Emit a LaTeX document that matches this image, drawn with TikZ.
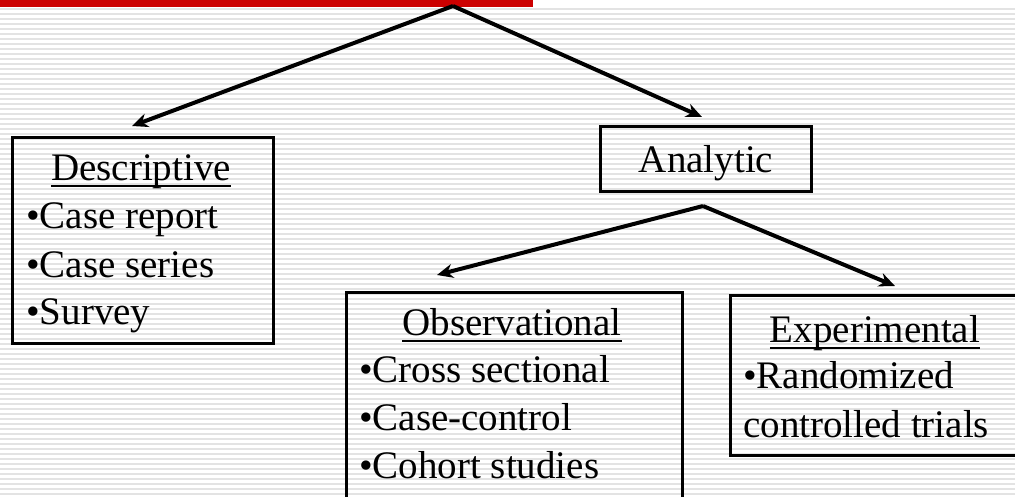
\documentclass[tikz,border=0pt]{standalone}
\usepackage{fontspec}
\setmainfont{Liberation Serif}
\usepackage{xcolor}
\usepackage{tikz}
\usetikzlibrary{arrows.meta, positioning}

\definecolor{barred}{HTML}{CC0000}
\definecolor{stripe}{HTML}{E3E3E3}

\begin{document}
\begin{tikzpicture}[
        x=1pt, y=-1pt,
        >={Stealth[length=16pt, width=14pt]},
        box/.style={draw, line width=3pt, inner sep=0pt},
        txt/.style={anchor=base west, inner sep=0pt, font=\fontsize{39}{46}\selectfont},
        head/.style={txt, anchor=base},
        link/.style={->, line width=4pt},
      ]

      \useasboundingbox (0,0) rectangle (1015,496);
      \clip (0,0) rectangle (1015,496);

      % striped slide background
      \fill[white] (0,0) rectangle (1015,496);
      \foreach \y in {9,14,...,496}
        \draw[stripe, line width=2pt] (0,\y) -- (1015,\y);

      \fill[barred] (0,0) rectangle (533,7);

      \node[box, minimum width=261pt, minimum height=206pt] (desc) at (142.5,240) {};
      \node[box, minimum width=211pt, minimum height=65pt]  (anal) at (705.5,158.5) {};
      \node[box, minimum width=336pt, minimum height=230pt] (obs)  at (514,407) {};
      \node[box, minimum width=287pt, minimum height=160pt] (exp)  at (873.5,375) {};

      \node[head] (descH) at (141,180) {Descriptive};
      \node[txt] (d1) at (26,228) {•Case report};
      \node[txt] (d2) at (26,277) {•Case series};
      \node[txt] (d3) at (26,324) {•Survey};

      \node[head] (analH) at (706,172) {Analytic};

      \node[head] (obsH) at (512,335) {Observational};
      \node[txt] (o1) at (359,382) {•Cross sectional};
      \node[txt] (o2) at (359,430) {•Case-control};
      \node[txt] (o3) at (359,478) {•Cohort studies};

      \node[head] (expH) at (875,342) {Experimental};
      \node[txt] (e1) at (743,388) {•Randomized};
      \node[txt] (e2) at (743,437) {controlled trials};

      % underlines of the headings
      \foreach \h in {descH, obsH, expH}
        \draw[line width=2pt] ([yshift=-6pt]\h.base west) -- ([yshift=-6pt]\h.base east);

      \coordinate (top)   at (453,6);
      \coordinate (split) at (703,206);
      \coordinate (descIn) at (132,126);
      \coordinate (analIn) at (702,117);
      \coordinate (obsIn)  at (437,275);
      \coordinate (expIn)  at (895,286);

      \draw[link] (top) -- (descIn);
      \draw[link] (top) -- (analIn);
      \draw[link] (split) -- (obsIn);
      \draw[link] (split) -- (expIn);

    \end{tikzpicture}
\end{document}
